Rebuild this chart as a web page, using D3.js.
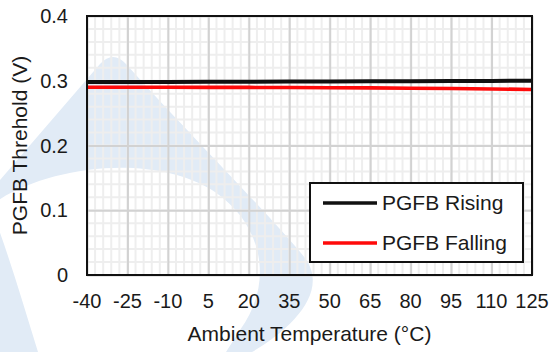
<!DOCTYPE html>
<html><head><meta charset="utf-8">
<script src="https://cdn.jsdelivr.net/npm/d3@7"></script>
<style>html,body{margin:0;padding:0;background:#fff;}svg{display:block;font-family:Arial,"Liberation Sans",sans-serif;}</style>
</head><body>
<svg id="c" width="552" height="352"></svg>
<script>
const temps = [-40, -25, -10, 5, 20, 35, 50, 65, 80, 95, 110, 125];
const rising = [0.2980, 0.2981, 0.2982, 0.2984, 0.2986, 0.2988, 0.2990, 0.2992, 0.2994, 0.2996, 0.2998, 0.3000];
const falling = [0.2900, 0.2900, 0.2899, 0.2898, 0.2897, 0.2895, 0.2893, 0.2890, 0.2885, 0.2880, 0.2873, 0.2866];
const xTicks = [-40, -25, -10, 5, 20, 35, 50, 65, 80, 95, 110, 125];
const yTicks = [0, 0.1, 0.2, 0.3, 0.4];
const seriesNames = ["PGFB Rising", "PGFB Falling"];
const seriesColors = ["#111111", "#ff0a0a"];
const xTitle = "Ambient Temperature (°C)";
const yTitle = "PGFB Threhold (V)";

const svg = d3.select("#c");
const L = 87, R = 532, T = 16, B = 275;
const x = d3.scaleLinear().domain([-40, 125]).range([L, R]);
const y = d3.scaleLinear().domain([0, 0.4]).range([B, T]);

// watermark
svg.append("path")
  .attr("fill", "#e1ebf6")
  .attr("fill-rule", "evenodd")
  .attr("d",
    "M0,180 L100,64 Q113,50 126,64 C190,135 270,215 305,258 C330,292 290,330 252,352 L0,352 Z " +
    "M-10,206 C40,168 150,150 215,192 C262,224 275,282 240,330 L226,352 L38,352 C22,300 8,252 -10,206 Z");

const g = svg.append("g");
// minor grid
const xMinor = d3.range(-40, 125.01, 3);
const yMinor = d3.range(0, 0.4001, 0.02);
g.selectAll(".xm").data(xMinor).join("line")
  .attr("x1", d => x(d)).attr("x2", d => x(d)).attr("y1", T).attr("y2", B)
  .attr("stroke", "#eeeeee").attr("stroke-width", 2);
g.selectAll(".ym").data(yMinor).join("line")
  .attr("y1", d => y(d)).attr("y2", d => y(d)).attr("x1", L).attr("x2", R)
  .attr("stroke", "#eeeeee").attr("stroke-width", 2);
// major grid
g.append("g").attr("transform", `translate(0,${B})`)
  .call(d3.axisBottom(x).tickValues(xTicks).tickSize(-(B - T)).tickFormat(""))
  .call(s => { s.select(".domain").remove(); s.selectAll("line").attr("stroke", "#d2d2d2").attr("stroke-width", 2); });
g.append("g").attr("transform", `translate(${L},0)`)
  .call(d3.axisLeft(y).tickValues(yTicks).tickSize(-(R - L)).tickFormat(""))
  .call(s => { s.select(".domain").remove(); s.selectAll("line").attr("stroke", "#d2d2d2").attr("stroke-width", 2); });

// lines
const line = d3.line().x((d, i) => x(temps[i])).y(d => y(d));
[rising, falling].forEach((s, i) => {
  svg.append("path").datum(s).attr("d", line).attr("fill", "none")
    .attr("stroke", seriesColors[i]).attr("stroke-width", i === 0 ? 4 : 3.6);
});

// border
svg.append("rect").attr("x", L).attr("y", T).attr("width", R - L).attr("height", B - T)
  .attr("fill", "none").attr("stroke", "#111").attr("stroke-width", 2);

// tick labels
svg.append("g").selectAll("text").data(xTicks).join("text")
  .attr("x", d => x(d)).attr("y", 308).attr("text-anchor", "middle")
  .attr("font-size", 20).attr("fill", "#1a1a1a").text(d => d);
svg.append("g").selectAll("text").data(yTicks).join("text")
  .attr("x", 68).attr("y", d => y(d) + 7).attr("text-anchor", "end")
  .attr("font-size", 20).attr("fill", "#1a1a1a").text(d => d === 0 ? "0" : d.toFixed(1));

// axis titles
svg.append("text").attr("x", (L + R) / 2).attr("y", 341).attr("text-anchor", "middle")
  .attr("font-size", 21).attr("fill", "#1a1a1a").text(xTitle);
svg.append("text").attr("transform", `translate(27,${(T + B) / 2}) rotate(-90)`)
  .attr("text-anchor", "middle").attr("font-size", 21).attr("fill", "#1a1a1a").text(yTitle);

// legend
const lg = svg.append("g");
lg.append("rect").attr("x", 310).attr("y", 183).attr("width", 213).attr("height", 79)
  .attr("fill", "#fff").attr("stroke", "#111").attr("stroke-width", 2);
seriesNames.forEach((n, i) => {
  const yy = 203 + i * 40;
  lg.append("line").attr("x1", 323).attr("x2", 377).attr("y1", yy).attr("y2", yy)
    .attr("stroke", seriesColors[i]).attr("stroke-width", 3.6);
  lg.append("text").attr("x", 382).attr("y", yy + 7).attr("font-size", 21)
    .attr("fill", "#1a1a1a").text(n);
});
</script>
</body></html>
